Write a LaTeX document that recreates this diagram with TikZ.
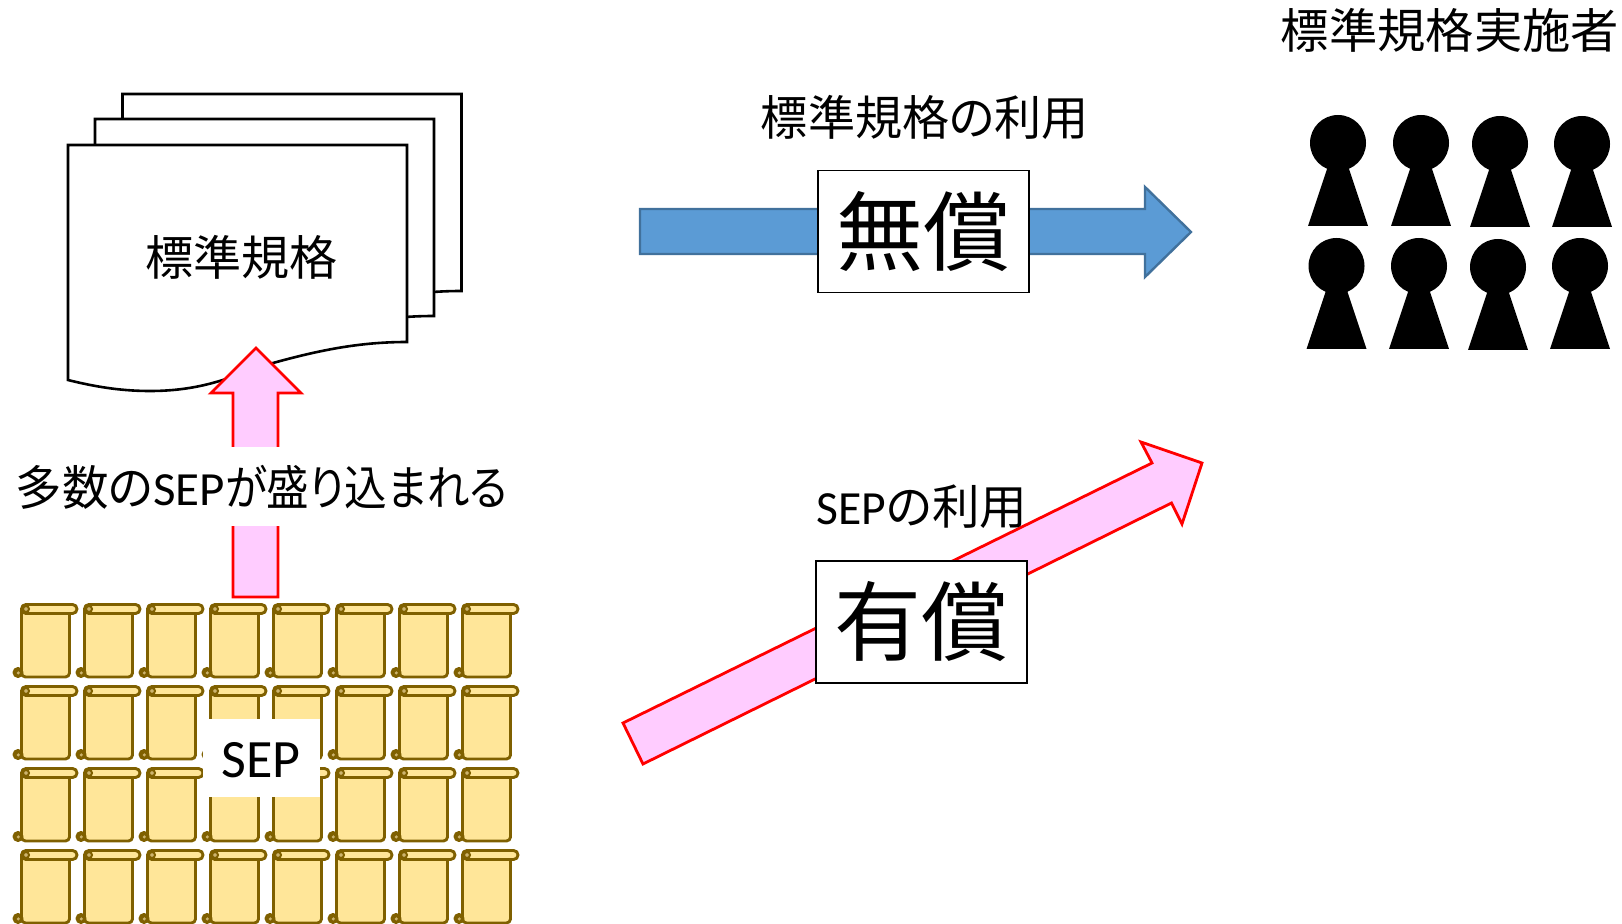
\documentclass[tikz,border=0pt]{standalone}
\usepackage{fontspec}
\setmainfont[RawFeature=+palt]{Noto Sans CJK JP}
\newfontfamily\latinfont{Carlito}
\usetikzlibrary{calc}
\definecolor{scrollfill}{RGB}{255,230,153}
\definecolor{scrollline}{RGB}{127,96,0}
\definecolor{scrollcurl}{RGB}{205,180,110}
\definecolor{pinkfill}{RGB}{255,204,255}
\definecolor{bluefill}{RGB}{91,155,213}
\definecolor{blueline}{RGB}{65,113,156}
\tikzset{
	pagesheet/.style={draw=black,fill=white,line width=1.3pt,line join=miter},
	pinkarrow/.style={draw=red,fill=pinkfill,line width=1.4pt,line join=miter},
	bluearrow/.style={draw=blueline,fill=bluefill,line width=1.2pt,line join=miter},
	scrollsheet/.style={draw=scrollline,fill=scrollfill,line width=1.45pt,line join=round},
	label/.style={inner sep=0pt,font=\fontsize{23.8pt}{28pt}\selectfont},
	pricebox/.style={draw=black,fill=white,line width=0.8pt,inner sep=0pt,minimum width=105.5pt,minimum height=61pt,font=\fontsize{43.5pt}{48pt}\selectfont},
}
\begin{document}
\begin{tikzpicture}[x=0.5pt,y=-0.5pt]
	\useasboundingbox (0,0) rectangle (1622,924);
	% stacked pages
	\foreach \dx/\dy in {54.5/-51,27/-26,0/0}{
		\begin{scope}[shift={(\dx,\dy)}]
			\draw[pagesheet] (68,145) -- (407,145) -- (407,342) .. controls (360,342) and (320,350) .. (273,363) .. controls (240,372) and (210,391) .. (150,391) .. controls (125,391) and (100,388) .. (68,380) -- cycle;
		\end{scope}
	}
	\node[label] (standard) at (241.5,257) {\scalebox{1.01}[1]{標準規格}};
	% scrolls
	\foreach \row in {0,1,2,3}{
		\foreach \col in {0,...,7}{
			\begin{scope}[shift={(21.5+63*\col,604.5+82*\row)}]
				\draw[scrollsheet,rounded corners=2pt] (0,5) -- (0,72.5) -- (48,72.5) -- (48,5);
				\draw[scrollsheet,fill=scrollline] (-3.5,68) circle (4);
				\fill[scrollcurl] (-3.2,68.4) circle (1.7);
				\draw[scrollsheet,rounded corners=2.2pt] (0,0) rectangle (55.5,9);
				\draw[scrollline,fill=scrollcurl,line width=1pt] (4.5,4.5) circle (3);
			\end{scope}
		}
	}
	\fill[white] (203,719) rectangle (320,797);
	\node[inner sep=0pt,font=\latinfont\fontsize{27pt}{30pt}\selectfont] (sep) at (261,760) {SEP};
	% arrow from the scrolls to the pages
	\draw[pinkarrow] (233,597) -- (233,393) -- (211,393) -- (256,348) -- (301,393) -- (278,393) -- (278,597) -- cycle;
	\node[label,fill=white,minimum height=39.5pt] (many) at (261.5,487) {\scalebox{.977}[1]{多数の}\scalebox{1.03}[1]{\latinfont SEP}\scalebox{.894}[1]{が盛り込まれる}};
	% free route
	\draw[bluearrow] (640,209) -- (1145,209) -- (1145,187) -- (1191,232) -- (1145,277) -- (1145,254) -- (640,254) -- cycle;
	\node[pricebox] (free) at (923.5,231.5) {無償};
	\node[label] (freetitle) at (925,117) {\scalebox{.99}[1]{標準規格の利用}};
	% paid route
	\draw[pinkarrow] (623,723) -- (1152,463) -- (1141,442) -- (1202,463) -- (1182,524) -- (1171.5,503) -- (643,764) -- cycle;
	\node[pricebox] (paid) at (921.5,622) {有償};
	\node[label] (paidtitle) at (922,507) {{\latinfont SEP}の利用};
	% implementers
	\node[label] (users) at (1450,30) {\scalebox{1.015}[1]{標準規格実施者}};
	\foreach \px/\py in {1338/143,1421/143,1500/144,1582/144,1336.5/266,1419/266,1498/267,1580/266}{
		\fill[black] (\px,\py) circle (28);
		\fill[black] (\px-30,\py+83) -- (\px+30,\py+83) -- (\px+9,\py+20) -- (\px-9,\py+20) -- cycle;
	}
\end{tikzpicture}
\end{document}
